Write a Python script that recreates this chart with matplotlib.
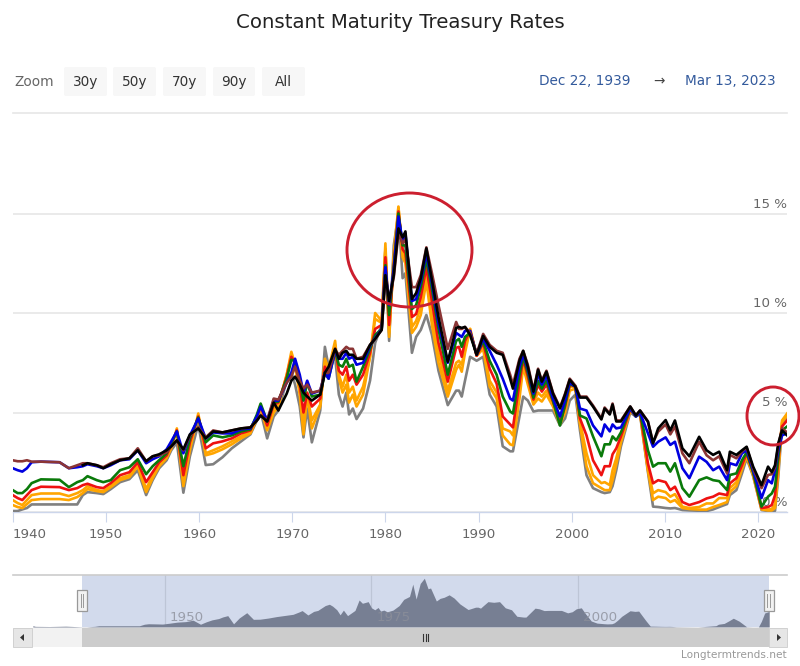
import matplotlib
matplotlib.use("Agg")
import matplotlib.pyplot as plt
from matplotlib.patches import Ellipse, FancyBboxPatch, Rectangle, Polygon
import numpy as np

nan = float("nan")

years = [1939.97,1940.5,1941,1941.5,1942,1943,1945,1946,1946.9,1947.5,1948,1949,
 1949.7,1950.5,1951.5,1952.5,1953.4,1954.3,1955,1955.7,1956.5,1957,1957.6,1958.3,
 1959,1959.9,1960.7,1961.5,1962.5,1963.5,1964.5,1965.5,1966.2,1966.6,1967.3,1968,
 1968.5,1969.4,1969.9,1970.3,1970.8,1971.2,1971.6,1972.1,1973,1973.5,1973.9,1974.6,
 1975,1975.4,1975.8,1976.1,1976.5,1976.9,1977.6,1978.35,1978.9,1979.6,1980.0,1980.4,
 1980.9,1981.4,1981.85,1982.15,1982.85,1983.3,1983.8,1984.4,1985,1985.7,1986.7,1987.6,
 1987.9,1988.2,1988.55,1989.1,1989.8,1990.5,1991.2,1991.95,1992.6,1993.4,1993.7,1994.4,
 1994.8,1995.3,1995.9,1996.4,1996.8,1997.3,1998,1998.75,1999.3,1999.8,2000.4,2000.9,
 2001.6,2002.3,2003.2,2003.55,2004.1,2004.4,2004.8,2005.3,2006.3,2006.9,2007.35,2008.2,
 2008.75,2009.3,2010.1,2010.6,2011.1,2011.9,2012.65,2013.7,2014.5,2015.2,2015.85,2016.7,
 2017,2017.7,2018.3,2018.8,2019.5,2020.4,2021.1,2021.5,2021.85,2022.2,2022.6,2023.15]

grey = [.05,.05,.13,.2,.38,.38,.38,.38,.38,.85,1.0,.95,
 .9,1.15,1.5,1.65,2.1,.85,1.6,2.2,2.6,3.1,3.5,.97,
 2.8,4.4,2.36,2.4,2.75,3.2,3.55,3.9,4.6,5.05,3.7,4.8,
 5.1,6.6,7.0,6.4,5.3,3.75,5.2,3.5,5.1,8.3,7.3,7.8,
 5.9,5.3,6.0,4.9,5.2,4.67,5.2,6.6,8.5,9.4,13.2,8.6,
 13.4,15.0,11.75,12.0,8.0,8.8,9.15,9.9,8.9,7.1,5.37,6.1,
 6.1,5.8,6.6,7.8,7.6,7.8,5.9,5.3,3.3,3.05,3.05,4.8,
 5.8,5.6,5.05,5.1,5.1,5.1,5.1,4.35,4.7,5.6,5.9,4.1,
 1.85,1.2,1.0,.95,1.0,1.3,2.1,3.3,5.0,4.8,4.9,2.0,
 .27,.25,.2,.18,.2,.1,.08,.06,.05,.13,.25,.4,
 .85,1.1,1.94,2.7,1.8,.1,.05,.05,.06,1.75,4.3,4.8]

orange1 = [.35,.25,.2,.4,.6,.65,.65,.6,.75,.95,1.15,1.05,
 1.0,1.25,1.6,1.75,2.3,1.0,1.7,2.3,2.7,3.2,4.2,1.3,
 3.1,4.95,2.85,2.95,3.15,3.4,3.7,3.95,4.7,5.2,4.1,5.0,
 5.3,6.9,8.05,7.4,5.9,3.9,5.9,4.2,5.3,7.7,7.2,8.6,
 6.7,6.0,6.4,5.5,5.9,5.3,5.9,7.8,10.0,9.6,13.5,8.8,
 13.0,15.35,12.8,12.5,9.0,9.3,9.9,11.6,9.4,7.5,5.8,7.15,
 7.4,7.05,8.0,9.2,7.85,8.2,6.3,5.7,3.85,3.4,3.35,5.7,
 7.3,6.4,5.4,5.7,5.55,5.9,5.3,4.4,5.0,6.1,6.2,4.4,
 2.3,1.45,1.2,1.1,1.1,1.6,2.4,3.5,5.1,4.85,4.95,2.1,
 .6,.77,.7,.5,.6,.2,.15,.12,.12,.25,.35,.5,
 1.0,1.3,2.15,2.8,1.85,.13,.08,.08,.2,2.0,4.6,4.95]

orange2 = [.6,.45,.35,.6,.85,.93,.93,.8,.95,1.1,1.3,1.1,
 1.05,1.3,1.7,1.85,2.4,1.15,1.85,2.4,2.75,3.3,4.1,1.55,
 3.3,4.85,2.95,3.1,3.3,3.55,3.8,4.05,4.7,5.3,4.25,5.2,
 5.4,6.9,7.9,7.4,6.1,4.4,5.9,4.6,5.4,7.5,7.0,8.4,
 6.9,6.3,6.9,6.0,6.3,5.6,6.3,7.8,9.7,9.5,13.2,9.0,
 12.6,15.3,13.0,12.8,9.3,9.6,10.3,11.9,9.9,8.0,6.1,7.5,
 7.6,7.4,8.2,9.2,7.85,8.3,6.6,6.0,4.2,4.05,3.85,6.0,
 7.5,6.6,5.5,6.0,5.8,6.1,5.4,4.5,5.2,6.3,6.3,4.55,
 2.95,1.85,1.45,1.5,1.35,2.1,2.7,3.65,5.1,4.85,5.0,2.15,
 .94,1.1,1.0,.77,.9,.27,.2,.25,.43,.43,.7,.7,
 1.2,1.5,2.25,2.85,1.95,.18,.12,.15,.4,2.2,4.5,4.85]

red = [.85,.7,.6,.85,1.1,1.27,1.25,1.1,1.2,1.35,1.42,1.25,
 1.2,1.45,1.85,2.0,2.5,1.5,2.0,2.5,2.85,3.4,4.1,1.85,
 3.5,4.8,3.2,3.45,3.55,3.7,3.95,4.1,4.8,5.35,4.35,5.4,
 5.5,6.8,7.8,7.5,6.4,5.0,6.0,5.3,5.7,7.3,6.9,8.2,
 7.1,6.9,7.3,6.6,6.9,6.4,6.9,8.0,9.2,9.4,12.8,9.4,
 12.4,15.1,13.2,13.0,9.8,9.95,10.8,12.3,10.6,8.5,6.55,8.25,
 8.3,7.8,8.6,9.1,7.85,8.5,7.2,6.45,4.8,4.4,4.25,6.5,
 7.7,6.8,5.65,6.4,6.05,6.4,5.55,4.5,5.3,6.4,6.3,4.7,
 3.85,2.6,1.85,2.3,2.3,2.9,3.2,3.8,5.15,4.85,5.0,2.44,
 1.44,1.6,1.5,1.1,1.27,.5,.35,.5,.68,.77,.93,.85,
 1.44,1.7,2.35,2.95,2.0,.2,.25,.35,.85,2.6,4.3,4.6]

green = [1.1,.95,.95,1.15,1.45,1.64,1.62,1.25,1.5,1.6,1.8,1.6,
 1.5,1.6,2.1,2.25,2.65,1.9,2.3,2.6,2.95,3.45,4.05,2.3,
 3.7,4.75,3.5,3.85,3.75,3.85,4.05,4.15,4.9,5.45,4.55,5.5,
 5.55,6.7,7.65,7.6,6.6,5.6,6.5,5.8,5.9,7.0,6.7,8.1,
 7.4,7.3,7.7,7.3,7.4,6.55,7.3,8.2,8.9,9.2,12.4,9.9,
 12.3,15.0,13.4,13.4,10.2,10.4,11.3,12.7,11.2,9.2,6.9,8.6,
 8.7,8.3,8.8,9.0,7.9,8.6,7.6,6.9,5.8,5.05,4.95,6.9,
 7.8,7.0,5.75,6.6,6.2,6.6,5.6,4.35,5.4,6.45,6.3,4.85,
 4.7,3.8,2.8,3.4,3.4,3.8,3.6,4.0,5.2,4.8,5.0,3.1,
 2.28,2.45,2.45,2.03,2.45,1.2,.77,1.6,1.74,1.6,1.55,1.1,
 1.86,1.94,2.6,3.0,2.0,.27,.77,.93,1.27,2.8,4.1,4.3]

blue = [2.2,2.1,2.03,2.2,2.5,2.53,2.5,2.2,2.25,2.3,2.4,2.3,
 2.2,2.35,2.6,2.65,3.1,2.45,2.65,2.8,3.15,3.55,4.05,2.95,
 3.85,4.7,3.7,4.0,3.95,3.95,4.15,4.2,4.8,5.3,4.6,5.6,
 5.6,6.5,7.0,7.7,6.9,6.0,6.6,5.95,6.1,7.0,6.7,8.1,
 7.7,7.7,8.0,7.7,7.8,7.4,7.5,8.35,8.75,9.2,12.3,10.4,
 12.2,14.85,13.6,14.0,10.6,10.7,11.6,13.0,11.5,9.5,7.5,9.0,
 8.9,8.8,9.1,9.1,7.9,8.7,8.1,7.4,6.7,5.7,5.6,7.3,
 7.9,7.2,5.95,6.95,6.4,6.85,5.7,4.8,5.6,6.5,6.3,5.2,
 5.1,4.35,3.8,4.4,4.05,4.4,4.2,4.25,5.2,4.8,5.0,3.95,
 3.28,3.53,3.75,3.37,3.53,2.2,1.7,2.78,2.52,2.1,2.28,1.6,
 2.45,2.35,2.95,3.1,2.1,.7,1.6,1.44,2.1,3.1,3.85,3.95]

brown = [2.6,2.55,2.55,2.6,2.53,2.53,2.5,2.2,2.35,2.45,2.45,2.35,
 2.25,2.45,2.65,2.7,3.2,2.55,2.8,2.85,3.0,3.3,3.6,3.1,
 3.85,4.25,3.75,4.1,4.0,4.1,4.2,4.25,4.6,4.85,4.6,5.7,
 5.65,6.5,6.8,7.3,6.6,6.2,6.4,6.0,6.1,7.0,7.0,8.15,
 7.9,8.1,8.3,8.2,8.2,7.7,7.8,8.4,8.7,9.15,11.8,10.6,
 11.8,14.0,13.5,13.7,11.3,11.3,11.9,13.3,12.0,10.4,8.2,9.55,
 9.2,9.2,9.3,9.0,7.95,8.95,8.4,8.1,8.0,6.9,6.4,7.7,
 8.1,7.4,6.1,7.2,6.6,7.1,6.0,5.25,5.95,6.7,6.35,5.8,
 5.8,5.35,4.7,5.25,4.95,5.45,4.6,4.6,5.3,4.85,5.1,4.55,
 3.5,4.04,4.4,3.9,4.3,2.95,2.45,3.53,2.85,2.6,2.8,1.94,
 2.87,2.7,3.05,3.25,2.2,1.2,1.86,1.9,2.25,3.35,4.2,4.0]

black = [nan,nan,nan,nan,nan,nan,nan,nan,nan,2.35,2.45,2.35,
 2.2,2.4,2.6,2.7,3.1,2.55,2.8,2.9,3.1,3.3,3.6,3.15,
 3.9,4.2,3.7,4.05,4.0,4.1,4.2,4.25,4.6,4.85,4.55,5.5,
 5.1,5.95,6.6,6.8,6.4,6.0,5.8,5.6,5.9,7.0,7.3,8.2,
 7.7,8.0,8.1,7.9,7.9,7.7,7.7,8.4,8.7,9.15,11.9,10.6,
 11.9,14.25,13.8,14.1,10.7,11.0,11.75,13.25,11.65,9.8,7.55,9.25,
 9.3,9.25,9.3,8.9,7.9,8.85,8.3,8.0,7.9,6.7,6.2,7.6,
 8.1,7.3,6.05,7.15,6.55,7.05,5.95,5.2,5.9,6.65,6.3,5.75,
 5.75,5.3,4.65,5.2,4.9,5.4,4.55,4.55,5.3,4.85,5.1,4.54,
 3.45,4.2,4.62,4.1,4.6,3.2,2.8,3.78,3.1,2.87,3.03,2.1,
 3.03,2.87,3.1,3.28,2.28,1.35,2.28,2.0,2.35,3.45,4.1,3.85]

series = [(grey, "#808080"), (orange1, "#FFA500"), (orange2, "#FFA500"), (red, "#EE1111"),
          (green, "#0A7A0A"), (blue, "#0000E0"), (brown, "#8B3535"), (black, "#000000")]

x_ticks = [1940, 1950, 1960, 1970, 1980, 1990, 2000, 2010, 2020]
y_ticks = [0, 5, 10, 15]
nav_ticks = [1925, 1950, 1975, 2000]
nav_pre_years = [1934, 1934.3, 1936, 1938, 1939, 1939.9]
nav_pre_values = [.4, .2, .15, .25, .15, .05]

W, H = 800, 666
FONT = "DejaVu Sans"
plt.rcParams["font.family"] = FONT
fig = plt.figure(figsize=(W / 100, H / 100), dpi=100)

def place(l, t, r, b, **kw):
    return fig.add_axes([l / W, 1 - b / H, (r - l) / W, (b - t) / H], **kw)

# main chart
ax = place(13, 112.5, 787, 512)
ax.set_xlim(1940, 1940 + 774 / 9.31)
ax.set_ylim(0, 399.5 / 19.9)
for s in ["top", "left", "right"]:
    ax.spines[s].set_visible(False)
ax.spines["bottom"].set_color("#ccd6eb")
ax.spines["bottom"].set_linewidth(1.0)
ax.spines["bottom"].set_zorder(1)
ax.set_yticks(y_ticks)
ax.set_yticklabels([])
ax.tick_params(axis="y", length=0)
ax.axhline(ax.get_ylim()[1], color="#e6e6e6", lw=1.2, clip_on=False)
ax.grid(axis="y", color="#e6e6e6", lw=1.2)
ax.set_axisbelow(True)
ax.set_xticks(x_ticks)
ax.set_xticklabels([str(y) for y in x_ticks], fontsize=9.6, color="#666666")
ax.tick_params(axis="x", length=7.5, width=0.8, color="#ccd6eb", pad=4)
ax.get_xticklabels()[0].set_ha("left")
for v in y_ticks:
    ax.annotate(f"{v} %", xy=(1, v), xycoords=ax.get_yaxis_transform(), xytext=(0, 3),
                textcoords="offset pixels", ha="right", va="bottom", fontsize=9.6,
                color="#666666", zorder=1.5, annotation_clip=False)
for vals, col in series:
    ax.plot(years, vals, color=col, lw=1.9, solid_joinstyle="round", zorder=3)

# navigator
nav = place(13, 575, 787, 627)
px_per_year = 8.26
nav_left = 1950 - (165 - 13) / px_per_year
nav.set_xlim(nav_left, nav_left + 774 / px_per_year)
nav.set_ylim(0, 52 / 3.25)
nav.axis("off")
nav.add_patch(Rectangle((1939.95, 0), 83.2, 16, color="#d2daec", lw=0, zorder=1))
for t in nav_ticks[1:]:
    nav.axvline(t, color="#bdc5d6", lw=0.9, zorder=1.5)
nav.fill_between(nav_pre_years + years, 0, nav_pre_values + grey, color="#777f93", lw=0, zorder=2)
for t in nav_ticks:
    nav.text(t + 0.6, 2.9, str(t), fontsize=9.6, color="#8c8f9a", alpha=0.8, ha="left",
             va="center", zorder=3, clip_on=True)
nav.axhline(16, color="#cccccc", lw=1.2, clip_on=False, zorder=4)

# page furniture, in pixel coordinates
ov = fig.add_axes([0, 0, 1, 1], facecolor="none")
ov.set_xlim(0, W)
ov.set_ylim(H, 0)
ov.axis("off")
ov.text(400, 22, "Constant Maturity Treasury Rates", ha="center", va="center",
        fontsize=14.2, color="#222222")
ov.text(34, 82, "Zoom", ha="center", va="center", fontsize=9.8, color="#666666")
buttons = [("30y", 64, 107), ("50y", 113, 156), ("70y", 163, 206), ("90y", 213, 255), ("All", 262, 305)]
for label, x0, x1 in buttons:
    ov.add_patch(FancyBboxPatch((x0 + 2, 69), x1 - x0 - 4, 25, boxstyle="round,pad=2",
                                fc="#f7f7f7", ec="none"))
    ov.text((x0 + x1) / 2, 82, label, ha="center", va="center", fontsize=9.8, color="#333333")
ov.text(585, 81, "Dec 22, 1939", ha="center", va="center", fontsize=9.8, color="#335a9c")
ov.text(659, 81, "→", ha="center", va="center", fontsize=9.8, color="#444444")
ov.text(730, 81, "Mar 13, 2023", ha="center", va="center", fontsize=9.8, color="#335a9c")
ov.text(787, 655, "Longtermtrends.net", ha="right", va="center", fontsize=7.6, color="#999999")

ov.add_patch(Ellipse((409.5, 250), 125, 114, fc="none", ec="#cc1f2f", lw=2.1))
ov.add_patch(Ellipse((773, 416), 52, 58, fc="none", ec="#cc1f2f", lw=2.1))

# scrollbar
ov.add_patch(Rectangle((13, 628), 774, 19, fc="#f2f2f2", ec="none"))
ov.add_patch(Rectangle((82, 628), 687, 19, fc="#cccccc", ec="none"))
ov.add_patch(Rectangle((13, 628), 19, 19, fc="#e6e6e6", ec="#cccccc", lw=0.6))
ov.add_patch(Rectangle((769, 628), 18, 19, fc="#e6e6e6", ec="#cccccc", lw=0.6))
ov.add_patch(Polygon([[24, 634], [24, 641], [20, 637.5]], fc="#333333", ec="none"))
ov.add_patch(Polygon([[777, 634], [777, 641], [781, 637.5]], fc="#333333", ec="none"))
for xg in (423, 425.5, 428):
    ov.plot([xg, xg], [634, 641], color="#333333", lw=0.8)
# navigator handles
for xh in (82, 768.5):
    ov.add_patch(Rectangle((xh - 5, 590), 10, 21, fc="#f2f2f2", ec="#999999", lw=0.9))
    for d in (-1.2, 1.2):
        ov.plot([xh + d, xh + d], [594, 607], color="#999999", lw=0.7)

fig.savefig("out.png", dpi=100)
